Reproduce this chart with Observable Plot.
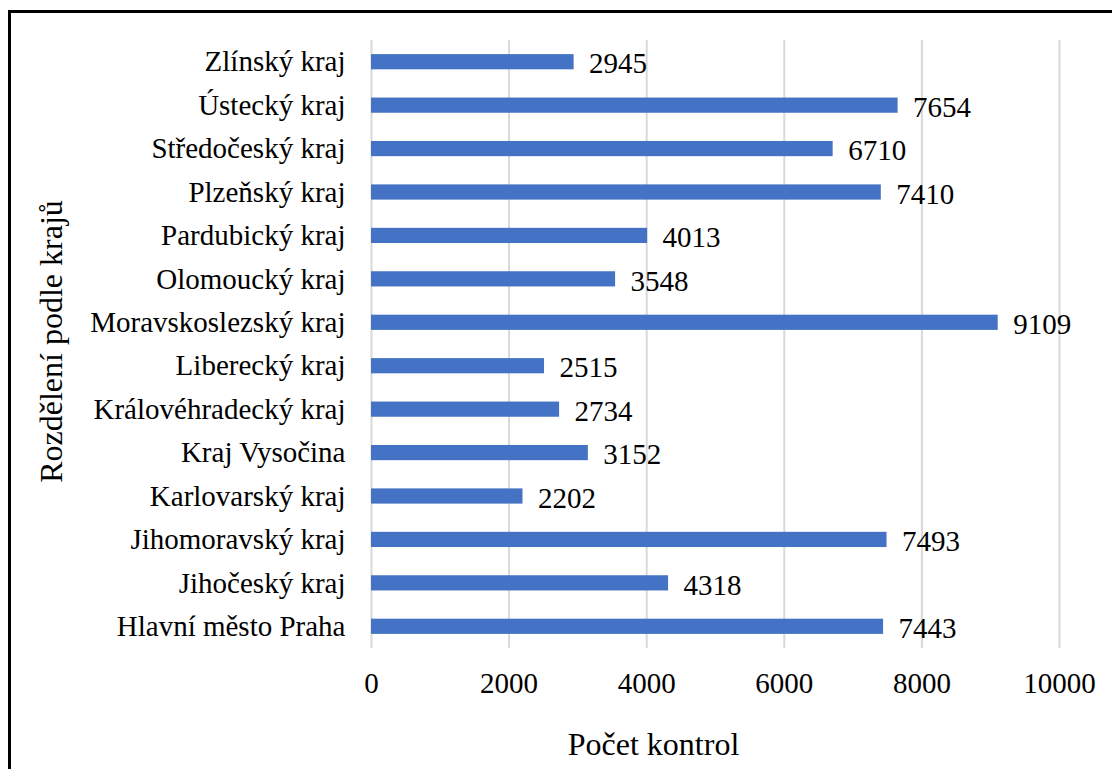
<!DOCTYPE html>
<html>
<head>
<meta charset="utf-8">
<script src="https://cdn.jsdelivr.net/npm/d3@7"></script>
<script src="https://cdn.jsdelivr.net/npm/@observablehq/plot@0.6"></script>
<style>
  html, body { margin: 0; padding: 0; background: white; }
  #wrap { position: relative; width: 1112px; height: 769px; overflow: hidden; }
  #border { position: absolute; left: 8px; top: 10px; width: 1200px; height: 900px;
            border-left: 3px solid #000; border-top: 3px solid #000; pointer-events: none; }
  #wrap svg, #wrap svg text { font-family: "Liberation Serif", "Times New Roman", serif !important; }
</style>
</head>
<body>
<div id="wrap"><div id="border"></div></div>
<script>
const regions = [
  "Zlínský kraj",
  "Ústecký kraj",
  "Středočeský kraj",
  "Plzeňský kraj",
  "Pardubický kraj",
  "Olomoucký kraj",
  "Moravskoslezský kraj",
  "Liberecký kraj",
  "Královéhradecký kraj",
  "Kraj Vysočina",
  "Karlovarský kraj",
  "Jihomoravský kraj",
  "Jihočeský kraj",
  "Hlavní město Praha"
];
const counts = [2945, 7654, 6710, 7410, 4013, 3548, 9109, 2515, 2734, 3152, 2202, 7493, 4318, 7443];
const xTicks = [0, 2000, 4000, 6000, 8000, 10000];
const xTitle = "Počet kontrol";
const yTitle = "Rozdělení podle krajů";

const data = regions.map((r, i) => ({region: r, count: counts[i]}));
const FONT = "Liberation Serif";

const chart = Plot.plot({
  width: 1112,
  height: 769,
  marginLeft: 371,
  marginRight: 53,
  marginTop: 40,
  marginBottom: 121,
  style: {fontFamily: FONT, fontSize: "29px", color: "#000", background: "transparent"},
  x: {domain: [0, 10000], label: null},
  y: {domain: regions, paddingInner: 0.65, paddingOuter: 0.325, round: false, label: null},
  marks: [
    Plot.gridX(xTicks, {stroke: "#d9d9d9", strokeOpacity: 1, strokeWidth: 2}),
    Plot.barX(data, {x: "count", y: "region", fill: "#4472C4"}),
    Plot.text(data, {x: "count", y: "region", text: d => String(d.count), textAnchor: "start", dx: 15, dy: 2, fontSize: 29, fontFamily: FONT, fill: "#000"}),
    Plot.axisX(xTicks, {tickSize: 0, tickPadding: 24, fontSize: 29, fontFamily: FONT, tickFormat: d => String(d), label: null}),
    Plot.axisY({tickSize: 0, tickPadding: 26, fontSize: 29, fontFamily: FONT, label: null}),
    Plot.text([xTitle], {frameAnchor: "bottom", dx: -62, dy: 96, lineAnchor: "middle", fontSize: 32, fontFamily: FONT, fill: "#000"}),
    Plot.text([yTitle], {frameAnchor: "left", rotate: -90, dx: -320, dy: -3, lineAnchor: "middle", textAnchor: "middle", fontSize: 32, fontFamily: FONT, fill: "#000"})
  ]
});
chart.style.position = "absolute";
chart.style.left = "0";
chart.style.top = "0";
document.getElementById("wrap").appendChild(chart);
</script>
</body>
</html>
